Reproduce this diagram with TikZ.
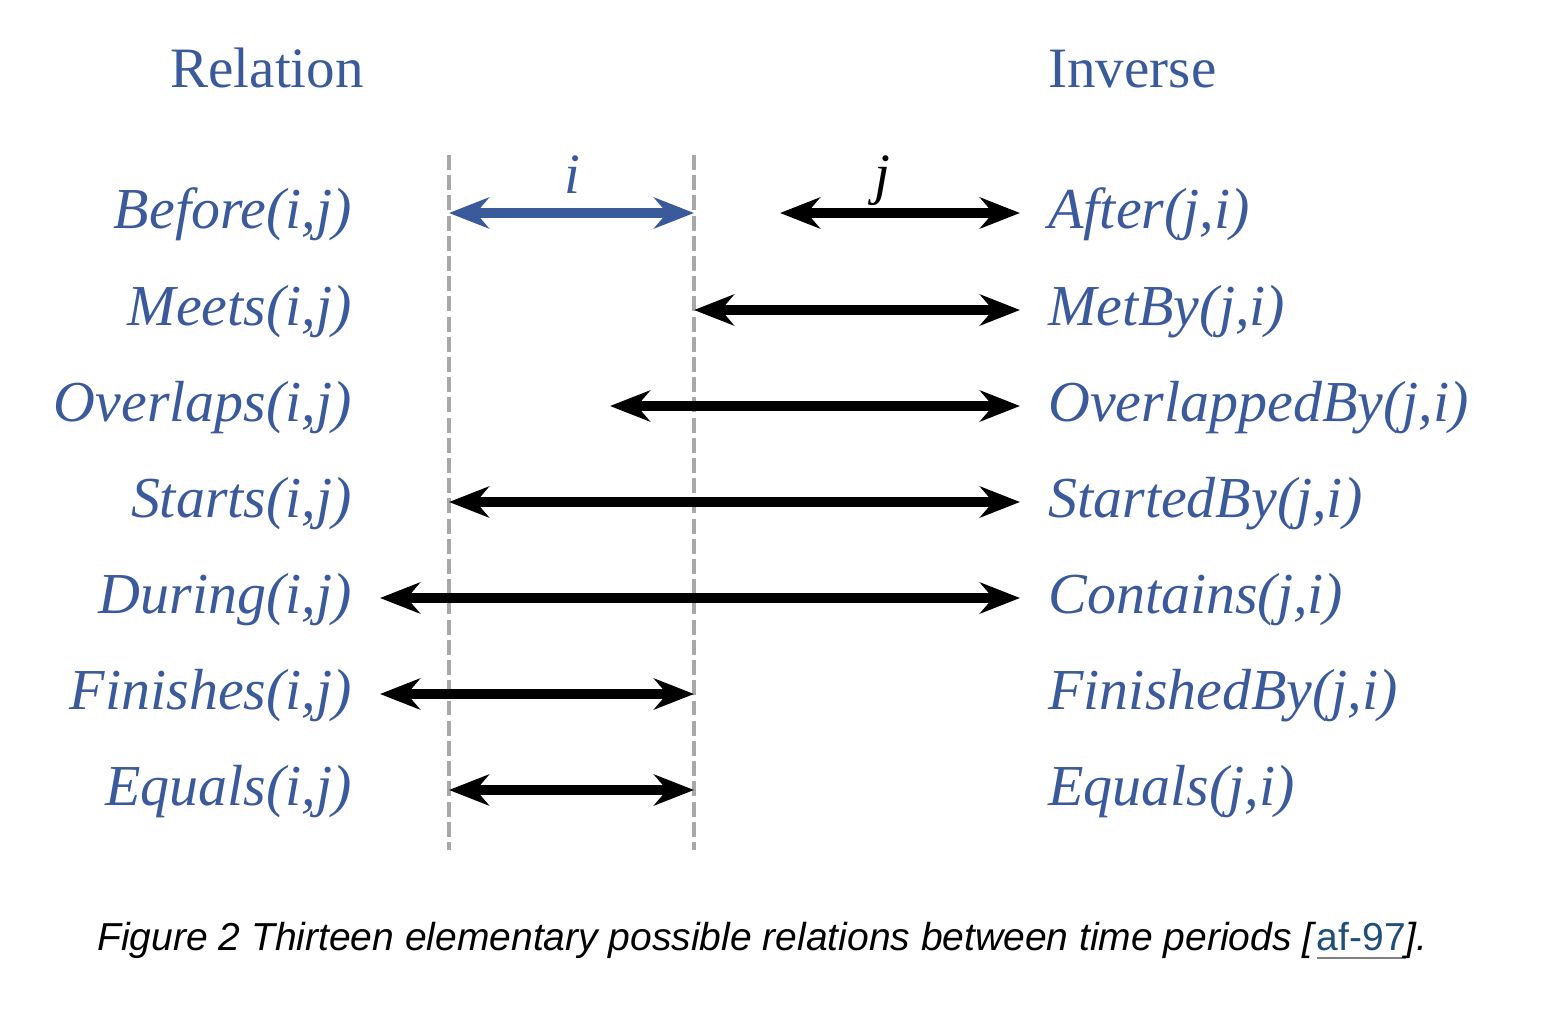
\documentclass[tikz,border=0pt]{standalone}
\usepackage{fontspec}
\setmainfont{Liberation Serif}
\newfontfamily\capfont{Liberation Sans}
\usetikzlibrary{arrows.meta}
\definecolor{relblue}{HTML}{3B5A9B}
\definecolor{linkblue}{HTML}{1F4E79}
\definecolor{guidegray}{HTML}{A8A8A8}
\newsavebox\afbox
\begin{document}
\begin{tikzpicture}[x=0.02cm,y=-0.02cm,
  lbl/.style={inner sep=0pt,text=relblue,font=\fontsize{33}{36}\selectfont\itshape},
  lleft/.style={lbl,anchor=base east},
  lright/.style={lbl,anchor=base west},
  head/.style={inner sep=0pt,text=relblue,font=\fontsize{32.5}{36}\selectfont,anchor=base west},
  guide/.style={guidegray,line width=2.8pt,dash pattern=on 8.5pt off 3pt},
  span/.style={line width=5.2pt,{Stealth[length=0.8cm,width=0.62cm,inset=0.26cm]}-{Stealth[length=0.8cm,width=0.62cm,inset=0.26cm]}},
  iv/.style={inner sep=0pt,font=\fontsize{32.5}{36}\selectfont\itshape,anchor=base}]
\useasboundingbox (0,0) rectangle (1558,1024);
% headers
\node[head] (hrel) at (170,88) {Relation};
\node[head] (hinv) at (1048,88) {Inverse};
% guides
\coordinate (g1t) at (449,155); \coordinate (g1b) at (449,850);
\coordinate (g2t) at (694,155); \coordinate (g2b) at (694,850);
\draw[guide] (g1t) -- (g1b);
\draw[guide] (g2t) -- (g2b);
% row coordinates
\coordinate (a1) at (449,213); \coordinate (b1) at (694,213);
\coordinate (c1) at (780,213); \coordinate (d1) at (1020,213);
\coordinate (a2) at (694,310); \coordinate (b2) at (1020,310);
\coordinate (a3) at (610,406); \coordinate (b3) at (1020,406);
\coordinate (a4) at (449,502); \coordinate (b4) at (1020,502);
\coordinate (a5) at (380,598); \coordinate (b5) at (1020,598);
\coordinate (a6) at (380,694); \coordinate (b6) at (694,694);
\coordinate (a7) at (449,790); \coordinate (b7) at (694,790);
\draw[span,relblue] (a1) -- (b1);
\draw[span] (c1) -- (d1);
\draw[span] (a2) -- (b2);
\draw[span] (a3) -- (b3);
\draw[span] (a4) -- (b4);
\draw[span] (a5) -- (b5);
\draw[span] (a6) -- (b6);
\draw[span] (a7) -- (b7);
\node[iv,text=relblue] (li) at (572,193) {i};
\node[iv] (lj) at (882,193) {j};
% left labels
\node[lleft] (r1) at (352,228) {Before(i,j)};
\node[lleft] (r2) at (352,325) {Meets(i,j)};
\node[lleft] (r3) at (352,421) {Overlaps(i,j)};
\node[lleft] (r4) at (352,517) {Starts(i,j)};
\node[lleft] (r5) at (352,613) {During(i,j)};
\node[lleft] (r6) at (352,709) {Finishes(i,j)};
\node[lleft] (r7) at (352,805) {Equals(i,j)};
% right labels
\node[lright] (s1) at (1048,228) {After(j,i)};
\node[lright] (s2) at (1048,325) {MetBy(j,i)};
\node[lright] (s3) at (1048,421) {OverlappedBy(j,i)};
\node[lright] (s4) at (1048,517) {StartedBy(j,i)};
\node[lright] (s5) at (1048,613) {Contains(j,i)};
\node[lright] (s6) at (1048,709) {FinishedBy(j,i)};
\node[lright] (s7) at (1048,805) {Equals(j,i)};
% caption
\node[inner sep=0pt,anchor=base west,font=\capfont\fontsize{22.2}{26}\selectfont] (cap) at (97,950)
 {\textit{Figure 2 Thirteen elementary possible relations between time periods [}\sbox\afbox{\color{linkblue}af-97}\rlap{\textcolor{gray}{\rule[-5pt]{\wd\afbox}{1.3pt}}}\usebox\afbox\textit{].}};
\end{tikzpicture}
\end{document}
